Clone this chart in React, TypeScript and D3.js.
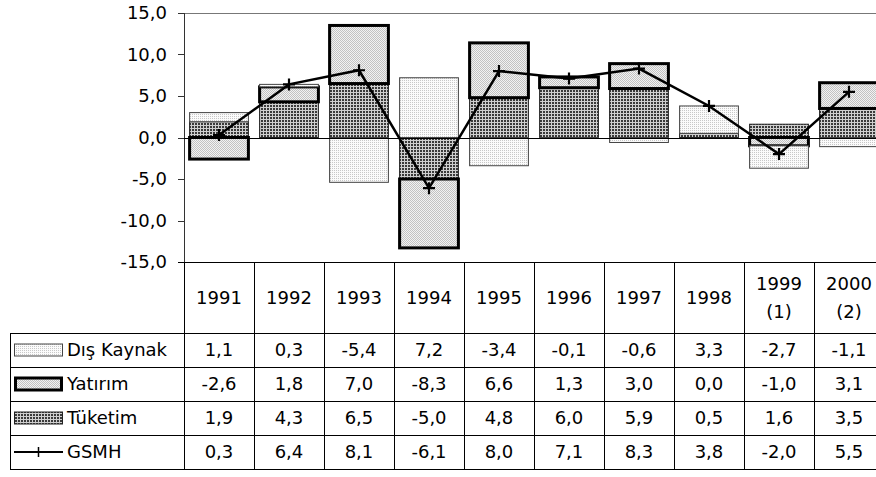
import React, { useEffect, useRef } from "react";
import * as d3 from "d3";

// chart data
const years = ["1991", "1992", "1993", "1994", "1995", "1996", "1997", "1998", "1999 (1)", "2000 (2)"];
const disKaynak = [1.1, 0.3, -5.4, 7.2, -3.4, -0.1, -0.6, 3.3, -2.7, -1.1];
const yatirim = [-2.6, 1.8, 7.0, -8.3, 6.6, 1.3, 3.0, 0.0, -1.0, 3.1];
const tuketim = [1.9, 4.3, 6.5, -5.0, 4.8, 6.0, 5.9, 0.5, 1.6, 3.5];
const gsmh = [0.3, 6.4, 8.1, -6.1, 8.0, 7.1, 8.3, 3.8, -2.0, 5.5];
const yTicks = [-15, -10, -5, 0, 5, 10, 15];
const seriesNames = ["Dış Kaynak", "Yatırım", "Tüketim", "GSMH"];

const FONT = "'DejaVu Sans', Verdana, sans-serif";

function App() {
  const canvas = useRef<HTMLDivElement>(null);

  function drawChart() {
    const [width, height] = [876, 477];
    const plot = { left: 184, right: 884, top: 13, bottom: 262 };
    const table = { left: 10, headerBottom: 333, rowH: 34 };
    const fs = 18;
    const fmt = (v: number) => v.toFixed(1).replace(".", ",");

    d3.select(canvas.current).selectAll("*").remove();
    const svg = d3
      .select(canvas.current)
      .append("svg")
      .attr("width", width)
      .attr("height", height)
      .style("position", "absolute")
      .style("left", "0px")
      .style("top", "0px")
      .style("font-family", FONT);

    svg.append("rect").attr("width", width).attr("height", height).attr("fill", "#fff");

    // fill patterns
    const defs = svg.append("defs");
    const pDis = defs.append("pattern").attr("id", "pDis").attr("patternUnits", "userSpaceOnUse").attr("width", 2).attr("height", 2);
    pDis.append("rect").attr("width", 2).attr("height", 2).attr("fill", "#fbfbfb");
    pDis.append("rect").attr("width", 1).attr("height", 1).attr("fill", "#c8c8c8");

    const pYat = defs.append("pattern").attr("id", "pYat").attr("patternUnits", "userSpaceOnUse").attr("width", 2).attr("height", 2);
    pYat.append("rect").attr("width", 2).attr("height", 2).attr("fill", "#f2f2f2");
    pYat.append("rect").attr("width", 1).attr("height", 1).attr("fill", "#c2c2c2");
    pYat.append("rect").attr("x", 1).attr("y", 1).attr("width", 1).attr("height", 1).attr("fill", "#c2c2c2");

    const pTuk = defs.append("pattern").attr("id", "pTuk").attr("patternUnits", "userSpaceOnUse").attr("width", 3).attr("height", 3);
    pTuk.append("rect").attr("width", 3).attr("height", 3).attr("fill", "#cfcfcf");
    pTuk.append("rect").attr("width", 2).attr("height", 2).attr("fill", "#3a3a3a");

    const styles: Record<string, { fill: string; stroke: string; sw: number }> = {
      tuketim: { fill: "url(#pTuk)", stroke: "#222", sw: 1 },
      yatirim: { fill: "url(#pYat)", stroke: "#000", sw: 3 },
      dis: { fill: "url(#pDis)", stroke: "#444", sw: 1 },
    };

    const xScale = d3
      .scaleBand()
      .domain(years)
      .range([plot.left, plot.right])
      .paddingInner(0.16)
      .paddingOuter(0.08);
    const step = xScale.step();
    const colLeft = (i: number) => plot.left + i * step;

    const yScale = d3.scaleLinear().domain([-15, 15]).range([plot.bottom, plot.top]);

    // plot frame
    svg.append("line")
      .attr("x1", plot.left).attr("x2", plot.right)
      .attr("y1", plot.top + 0.5).attr("y2", plot.top + 0.5)
      .attr("stroke", "#777").attr("stroke-width", 1);

    // y axis
    const yAxisG = svg.append("g");
    yAxisG.append("line")
      .attr("x1", plot.left + 0.5).attr("x2", plot.left + 0.5)
      .attr("y1", plot.top).attr("y2", plot.bottom)
      .attr("stroke", "#333");
    yAxisG.selectAll("line.tick")
      .data(yTicks)
      .join("line")
      .attr("class", "tick")
      .attr("x1", plot.left - 6).attr("x2", plot.left)
      .attr("y1", (d) => Math.round(yScale(d)) + 0.5)
      .attr("y2", (d) => Math.round(yScale(d)) + 0.5)
      .attr("stroke", "#333");
    yAxisG.selectAll("text")
      .data(yTicks)
      .join("text")
      .attr("x", plot.left - 17)
      .attr("y", (d) => yScale(d))
      .attr("dy", "0.36em")
      .attr("text-anchor", "end")
      .attr("font-size", fs)
      .attr("fill", "#000")
      .text((d) => fmt(d));

    // stacked bars
    const rows = years.map((c, i) => ({ cat: c, tuketim: tuketim[i], yatirim: yatirim[i], dis: disKaynak[i] }));
    const stacked = d3
      .stack<any>()
      .keys(["tuketim", "yatirim", "dis"])
      .offset(d3.stackOffsetDiverging)(rows);

    stacked.forEach((layer) => {
      const st = styles[layer.key];
      svg.append("g")
        .selectAll("rect")
        .data(layer.filter((d) => d[1] - d[0] !== 0))
        .join("rect")
        .attr("x", (d) => xScale(d.data.cat)!)
        .attr("width", xScale.bandwidth())
        .attr("y", (d) => yScale(Math.max(d[0], d[1])))
        .attr("height", (d) => Math.abs(yScale(d[0]) - yScale(d[1])))
        .attr("fill", st.fill)
        .attr("stroke", st.stroke)
        .attr("stroke-width", st.sw);
    });

    // zero line
    svg.append("line")
      .attr("x1", plot.left).attr("x2", plot.right)
      .attr("y1", Math.round(yScale(0)) + 0.5).attr("y2", Math.round(yScale(0)) + 0.5)
      .attr("stroke", "#000");

    // GSMH line
    const cx = (i: number) => xScale(years[i])! + xScale.bandwidth() / 2;
    const line = d3.line<number>().x((d, i) => cx(i)).y((d) => yScale(d));
    svg.append("path")
      .attr("d", line(gsmh))
      .attr("fill", "none")
      .attr("stroke", "#000")
      .attr("stroke-width", 2.5);
    const plus = (x: number, yy: number, s: number) => `M${x - s},${yy}H${x + s}M${x},${yy - s}V${yy + s}`;
    svg.append("g")
      .selectAll("path")
      .data(gsmh)
      .join("path")
      .attr("d", (d, i) => plus(cx(i), yScale(d), 6))
      .attr("stroke", "#000")
      .attr("stroke-width", 2.2);

    // data table
    const tg = svg.append("g").attr("stroke", "#000").attr("stroke-width", 1);
    const nRows = seriesNames.length;
    const tableBottom = table.headerBottom + nRows * table.rowH;
    tg.append("line")
      .attr("x1", plot.left - 6).attr("x2", plot.right)
      .attr("y1", plot.bottom + 0.5).attr("y2", plot.bottom + 0.5);
    for (let r = 0; r <= nRows; r++) {
      const yy = table.headerBottom + r * table.rowH + 0.5;
      tg.append("line").attr("x1", table.left).attr("x2", plot.right).attr("y1", yy).attr("y2", yy);
    }
    tg.append("line")
      .attr("x1", table.left + 0.5).attr("x2", table.left + 0.5)
      .attr("y1", table.headerBottom).attr("y2", tableBottom);
    for (let i = 0; i <= years.length; i++) {
      const xx = Math.round(colLeft(i)) + 0.5;
      tg.append("line").attr("x1", xx).attr("x2", xx).attr("y1", plot.bottom).attr("y2", tableBottom);
    }

    // header labels
    const headerMid = (plot.bottom + table.headerBottom) / 2;
    years.forEach((c, i) => {
      const parts = c.split(" ");
      const t = svg.append("text")
        .attr("x", colLeft(i) + step / 2)
        .attr("text-anchor", "middle")
        .attr("font-size", fs)
        .attr("fill", "#000");
      parts.forEach((p, k) => {
        t.append("tspan")
          .attr("x", colLeft(i) + step / 2)
          .attr("y", headerMid + (k - (parts.length - 1) / 2) * 28)
          .attr("dy", "0.36em")
          .text(p);
      });
    });

    // value rows
    const seriesValues = [disKaynak, yatirim, tuketim, gsmh];
    seriesValues.forEach((vals, r) => {
      const rowMid = table.headerBottom + r * table.rowH + table.rowH / 2;
      svg.append("g")
        .selectAll("text")
        .data(vals)
        .join("text")
        .attr("x", (d, i) => colLeft(i) + step / 2)
        .attr("y", rowMid)
        .attr("dy", "0.36em")
        .attr("text-anchor", "middle")
        .attr("font-size", fs)
        .attr("fill", "#000")
        .text((d) => fmt(d));

      // legend key
      const kx = 14;
      const kw = 49;
      if (r < 3) {
        const st = styles[["dis", "yatirim", "tuketim"][r]];
        svg.append("rect")
          .attr("x", kx + st.sw / 2)
          .attr("y", rowMid - 6)
          .attr("width", kw - st.sw)
          .attr("height", 12)
          .attr("fill", st.fill)
          .attr("stroke", st.stroke)
          .attr("stroke-width", st.sw);
      } else {
        svg.append("line")
          .attr("x1", kx).attr("x2", kx + kw)
          .attr("y1", rowMid).attr("y2", rowMid)
          .attr("stroke", "#000").attr("stroke-width", 2);
        svg.append("path")
          .attr("d", plus(kx + kw / 2, rowMid, 5))
          .attr("stroke", "#000").attr("stroke-width", 1.5);
      }
      svg.append("text")
        .attr("x", kx + kw + 4)
        .attr("y", rowMid)
        .attr("dy", "0.36em")
        .attr("font-size", fs)
        .attr("fill", "#000")
        .text(seriesNames[r]);
    });
  }

  useEffect(() => {
    drawChart();
  }, []);

  return <div ref={canvas}></div>;
}

export default App;
